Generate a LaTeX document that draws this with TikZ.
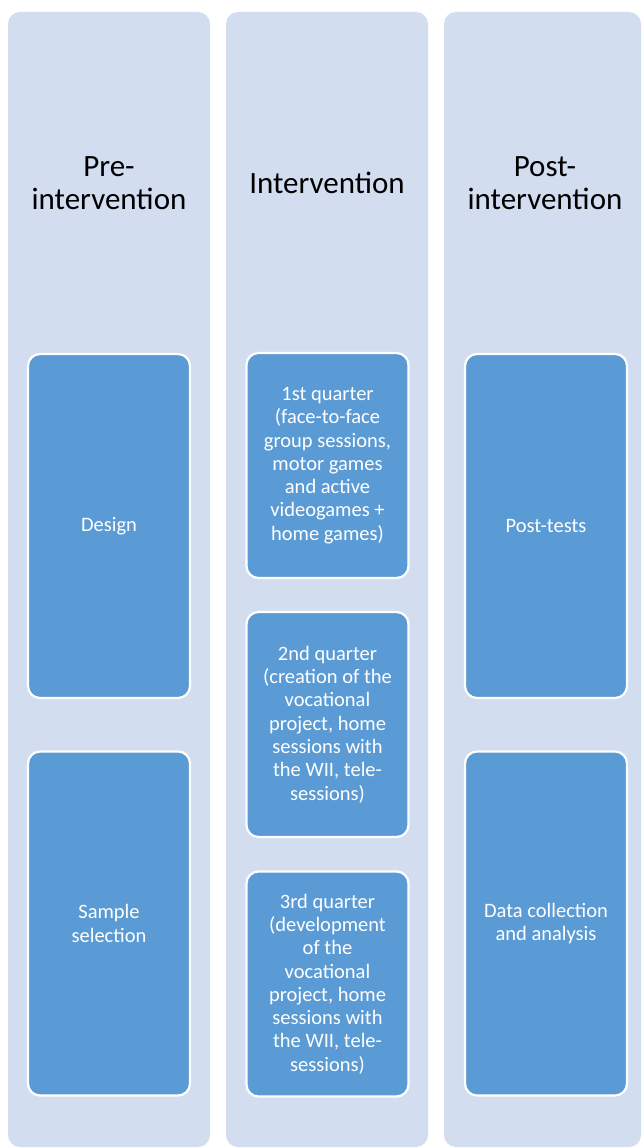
\documentclass[tikz,border=0pt]{standalone}
\usepackage{fontspec}
\setmainfont{Carlito}
\definecolor{colbg}{HTML}{D2DEEF}
\definecolor{boxbg}{HTML}{5B9BD5}
\begin{document}
\begin{tikzpicture}[x=1pt,y=-1pt,
  column/.style={fill=colbg, draw=none, rounded corners=12pt, minimum height=1135pt, inner sep=0pt},
  phase/.style={font=\fontsize{31}{33}\selectfont, align=center, text=black, inner sep=0pt},
  stepbox/.style={fill=boxbg, draw=white, line width=2.2pt, rounded corners=12pt, minimum width=162pt,
    text=white, align=center, font=\fontsize{20.5}{23.3}\selectfont, inner sep=0pt},
  tall/.style={minimum height=344pt},
  short/.style={minimum height=225pt}]
\useasboundingbox (0,0) rectangle (642,1148);
% columns
\node[column, minimum width=202pt] (c1) at (109,579.5) {};
\node[column, minimum width=202pt] (c2) at (327,579.5) {};
\node[column, minimum width=197pt] (c3) at (542.5,579.5) {};
% headers
\node[phase] (h1) at (109,183) {Pre-\\intervention};
\node[phase] (h2) at (327,183) {Intervention};
\node[phase] (h3) at (545,183) {Post-\\intervention};
% column 1
\node[stepbox, tall] (design) at (109,526) {Design};
\node[stepbox, tall] (sample) at (109,923.5) {Sample\\selection};
% column 2
\node[stepbox, short] (q1) at (327.5,465.5) {1st quarter\\(face-to-face\\group sessions,\\motor games\\and active\\videogames +\\home games)};
\node[stepbox, short] (q2) at (327.5,724.5) {2nd quarter\\(creation of the\\vocational\\project, home\\sessions with\\the WII, tele-\\sessions)};
\node[stepbox, short] (q3) at (327.5,984) {3rd quarter\\(development\\of the\\vocational\\project, home\\sessions with\\the WII, tele-\\sessions)};
% column 3
\node[stepbox, tall] (post) at (546,526) {Post-tests};
\node[stepbox, tall] (data) at (546,923.5) {Data collection\\and analysis};
\end{tikzpicture}
\end{document}
